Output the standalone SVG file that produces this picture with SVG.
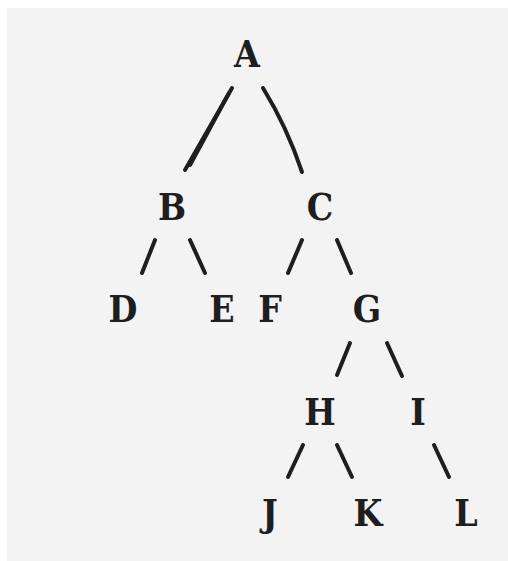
<svg xmlns="http://www.w3.org/2000/svg" width="508" height="561" viewBox="0 0 508 561">
<style>
.n text{font-family:"DejaVu Serif Condensed","DejaVu Serif","Liberation Mono",serif;font-weight:bold;font-size:37px;fill:#1e1e1e;text-anchor:middle}
.e line,.e path{stroke:#1e1e1e;stroke-width:4;stroke-linecap:round;fill:none}
</style>
<rect width="508" height="561" fill="#ffffff"/>
<rect x="7" y="8" width="501" height="553" fill="#f3f3f3"/>
<g id="edges" class="e">
<path d="M232,88 L185,170" stroke-width="6"/>
<path d="M229,93 L190,165" stroke-width="3"/>
<path d="M263,88 Q287,127 302,172"/>
<line x1="155" y1="240" x2="142" y2="273"/>
<line x1="190" y1="240" x2="205" y2="273"/>
<line x1="302" y1="240" x2="288" y2="273"/>
<line x1="337" y1="240" x2="351" y2="273"/>
<line x1="350" y1="343" x2="337" y2="375"/>
<line x1="387" y1="343" x2="402" y2="376"/>
<line x1="303" y1="445" x2="288" y2="477"/>
<line x1="337" y1="445" x2="352" y2="477"/>
<line x1="434" y1="445" x2="449" y2="477"/>
</g>
<g id="A" class="n"><text x="247" y="67">A</text></g>
<g id="B" class="n"><text x="172" y="220">B</text></g>
<g id="C" class="n"><text x="320" y="220">C</text></g>
<g id="D" class="n"><text x="123" y="322">D</text></g>
<g id="E" class="n"><text x="222" y="322">E</text></g>
<g id="F" class="n"><text x="270" y="322">F</text></g>
<g id="G" class="n"><text x="367" y="322">G</text></g>
<g id="H" class="n"><text x="320" y="425">H</text></g>
<g id="I" class="n"><text x="418" y="425">I</text></g>
<g id="J" class="n"><text x="270" y="526">J</text></g>
<g id="K" class="n"><text x="368" y="526">K</text></g>
<g id="L" class="n"><text x="466" y="526">L</text></g>
</svg>
